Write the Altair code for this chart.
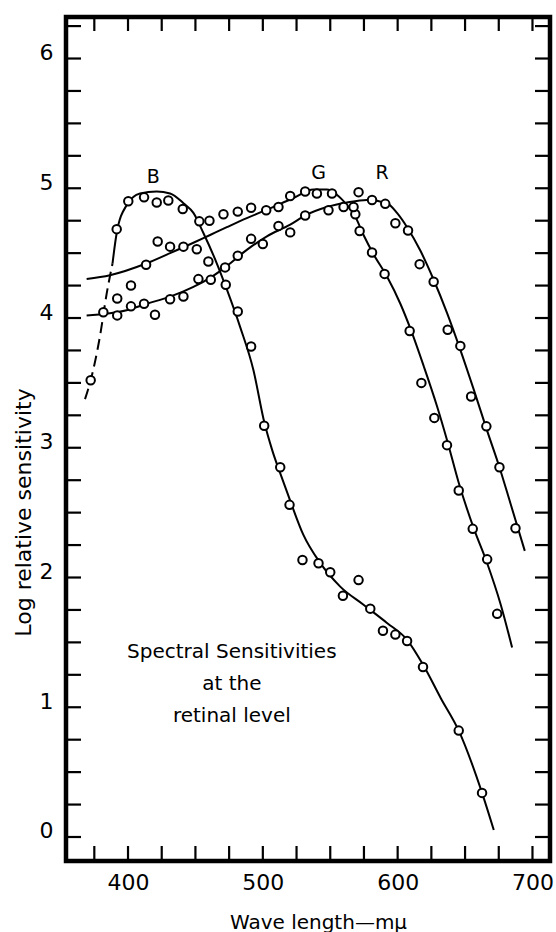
import altair as alt
import pandas as pd

# ---- measured points (wavelength nm, log relative sensitivity) ----
b_x = [372.3, 391.6, 400.2, 411.9, 421.3, 429.9, 440.6, 452.9, 459.6, 472.5, 481.4, 491.3, 501.0,
       512.9, 519.8, 529.4, 541.3, 550.0, 559.4, 571.0, 579.7, 589.1, 598.3, 607.0, 618.8, 645.3, 662.6]
b_y = [3.52, 4.685, 4.90, 4.93, 4.89, 4.906, 4.84, 4.745, 4.435, 4.256, 4.05, 3.78, 3.17,
       2.85, 2.56, 2.135, 2.11, 2.04, 1.86, 1.98, 1.76, 1.59, 1.56, 1.51, 1.31, 0.82, 0.34]

g_x = [402.2, 413.4, 422.0, 431.2, 441.1, 451.0, 460.4, 470.8, 481.4, 491.3, 502.5, 511.6, 520.3, 531.4,
       540.1, 551.3, 568.6, 571.8, 581.0, 590.3, 608.9, 617.6, 627.2, 636.6, 645.3, 655.7, 666.4, 673.8]
g_y = [4.25, 4.41, 4.59, 4.55, 4.55, 4.53, 4.75, 4.80, 4.82, 4.85, 4.83, 4.855, 4.94, 4.975,
       4.96, 4.96, 4.80, 4.67, 4.505, 4.34, 3.90, 3.50, 3.23, 3.02, 2.67, 2.375, 2.14, 1.72]

r_x = [381.7, 392.0, 392.0, 402.2, 411.9, 420.0, 431.2, 441.1, 452.2, 461.4, 472.0, 481.4, 491.3, 500.0,
       511.6, 520.3, 531.4, 548.7, 559.9, 567.3, 571.0, 581.0, 590.8, 598.3, 607.7, 616.3, 626.7, 637.1,
       646.5, 654.5, 665.8, 675.5, 687.4]
r_y = [4.045, 4.15, 4.02, 4.09, 4.11, 4.025, 4.145, 4.166, 4.30, 4.295, 4.39, 4.48, 4.61, 4.57,
       4.71, 4.66, 4.79, 4.83, 4.855, 4.855, 4.97, 4.91, 4.88, 4.73, 4.675, 4.415, 4.28, 3.91,
       3.785, 3.395, 3.165, 2.85, 2.38]

# ---- drawn curves ----
bdash_x = [368.1, 372.3, 379.2, 384.2, 388.5]
bdash_y = [3.375, 3.52, 3.86, 4.19, 4.42]

bline_x = [388.5, 391.6, 399.0, 408.9, 421.3, 431.2, 441.1, 448.5, 455.9, 465.9, 473.3, 483.2, 493.0,
           501.0, 507.0, 513.0, 520.0, 530.0, 542.0, 557.4, 574.7, 592.1, 607.0, 619.3, 632.0, 645.3,
           662.6, 671.3]
bline_y = [4.42, 4.655, 4.87, 4.96, 4.975, 4.96, 4.885, 4.81, 4.655, 4.42, 4.22, 3.93, 3.60,
           3.20, 2.98, 2.80, 2.60, 2.33, 2.12, 1.93, 1.79, 1.65, 1.52, 1.32, 1.07, 0.82,
           0.34, 0.054]

gline_x = [369.3, 386.6, 413.4, 431.2, 448.5, 460.9, 473.3, 488.1, 503.0, 522.7, 537.6, 547.5, 554.9,
           562.4, 568.6, 574.7, 582.2, 592.1, 602.0, 609.4, 619.3, 629.2, 636.6, 645.3, 656.4, 666.4,
           676.2, 684.9]
gline_y = [4.30, 4.33, 4.42, 4.50, 4.58, 4.64, 4.70, 4.77, 4.835, 4.925, 4.99, 4.99, 4.95,
           4.87, 4.78, 4.64, 4.49, 4.32, 4.11, 3.92, 3.63, 3.32, 3.06, 2.73, 2.38, 2.11,
           1.80, 1.46]

rline_x = [369.3, 399.0, 413.9, 431.2, 448.5, 460.9, 473.3, 488.1, 503.0, 520.3, 531.4, 547.5, 562.4,
           577.2, 592.1, 599.5, 607.0, 616.8, 626.7, 636.6, 646.5, 656.4, 666.4, 675.5, 683.7, 694.3]
rline_y = [4.02, 4.06, 4.11, 4.165, 4.24, 4.31, 4.40, 4.525, 4.63, 4.72, 4.79, 4.855, 4.89,
           4.91, 4.885, 4.81, 4.70, 4.52, 4.295, 4.04, 3.755, 3.45, 3.13, 2.85, 2.57, 2.205]

# ---- labels ----
curve_labels = ["B", "G", "R"]
curve_label_x = [418.7, 541.3, 588.4]
curve_label_y = [5.09, 5.12, 5.12]

caption_lines = ["Spectral Sensitivities", "at the", "retinal level"]
caption_x = [477.0, 477.0, 477.0]
caption_y = [1.38, 1.13, 0.887]

x_tick_values = [375, 400, 425, 450, 475, 500, 525, 550, 575, 600, 625, 650, 675, 700]
x_label_values = [400, 500, 600, 700]
y_tick_values = [i * 0.25 for i in range(26)]
y_label_values = [0, 1, 2, 3, 4, 5, 6]

X_DOMAIN = [354, 713]
Y_DOMAIN = [-0.185, 6.32]
W, H = 484, 844
FONT = "DejaVu Sans"

xs = alt.Scale(domain=X_DOMAIN, nice=False, zero=False)
ys = alt.Scale(domain=Y_DOMAIN, nice=False, zero=False)

X_AXIS = alt.Axis(
    values=x_label_values, ticks=False, domain=False, grid=False,
    labelFontSize=22, labelFont=FONT, labelColor="black", labelPadding=11,
    title="Wave length\u2014m\u03bc", titleFont=FONT, titleFontSize=20,
    titleFontWeight="normal", titleColor="black",
    titleX=252, titleY=67, titleAlign="center", titleBaseline="alphabetic")
Y_AXIS = alt.Axis(
    values=y_label_values, ticks=False, domain=False, grid=False,
    labelFontSize=22, labelFont=FONT, labelColor="black", labelPadding=13,
    labelBaseline="middle", labelOffset=-6,
    title="Log relative sensitivity", titleFont=FONT, titleFontSize=22,
    titleFontWeight="normal", titleColor="black", titleAngle=270,
    titleX=-43, titleY=495, titleAlign="center", titleBaseline="middle")

X = alt.X("x:Q", scale=xs, axis=X_AXIS)
Y = alt.Y("y:Q", scale=ys, axis=Y_AXIS)


def df(xv, yv, **extra):
    d = pd.DataFrame({"x": xv, "y": yv})
    for k, v in extra.items():
        d[k] = v
    return d


tick_style = dict(color="black", strokeWidth=2.2)
xt = pd.DataFrame({"x": x_tick_values})
yt = pd.DataFrame({"y": y_tick_values})
bottom_ticks = alt.Chart(xt).mark_rule(**tick_style).encode(
    x=X, y=alt.value(H), y2=alt.value(H - 15))
top_ticks = alt.Chart(xt).mark_rule(**tick_style).encode(
    x=X, y=alt.value(0), y2=alt.value(14))
left_ticks = alt.Chart(yt).mark_rule(**tick_style).encode(
    y=Y, x=alt.value(0), x2=alt.value(15))
right_ticks = alt.Chart(yt).mark_rule(**tick_style).encode(
    y=Y, x=alt.value(W), x2=alt.value(W - 15))

line_style = dict(color="black", strokeWidth=2, interpolate="monotone")
b_dash = alt.Chart(df(bdash_x, bdash_y)).mark_line(strokeDash=[11, 6], **line_style).encode(x=X, y=Y)
b_line = alt.Chart(df(bline_x, bline_y)).mark_line(**line_style).encode(x=X, y=Y)
g_line = alt.Chart(df(gline_x, gline_y)).mark_line(**line_style).encode(x=X, y=Y)
r_line = alt.Chart(df(rline_x, rline_y)).mark_line(**line_style).encode(x=X, y=Y)

pts = pd.concat([df(b_x, b_y, s="B"), df(g_x, g_y, s="G"), df(r_x, r_y, s="R")])
points = alt.Chart(pts).mark_circle(size=72, fill="white", stroke="black",
                                    strokeWidth=2, opacity=1).encode(x=X, y=Y)

letters = alt.Chart(pd.DataFrame({"x": curve_label_x, "y": curve_label_y, "t": curve_labels})).mark_text(
    font=FONT, fontSize=19, color="black", align="center", baseline="middle").encode(x=X, y=Y, text="t:N")

caption = alt.Chart(pd.DataFrame({"x": caption_x, "y": caption_y, "t": caption_lines})).mark_text(
    font=FONT, fontSize=20, color="black", align="center", baseline="alphabetic").encode(x=X, y=Y, text="t:N")

chart = alt.layer(
    bottom_ticks, top_ticks, left_ticks, right_ticks,
    b_dash, b_line, g_line, r_line, points, letters, caption
).properties(
    width=W, height=H,
    autosize=alt.AutoSizeParams(type="none"),
    padding={"left": 66, "top": 17, "right": 6, "bottom": 71},
    background="white",
).configure_view(stroke="black", strokeWidth=4.5)

chart.save("out.html", embed_options={"renderer": "svg", "actions": False})
